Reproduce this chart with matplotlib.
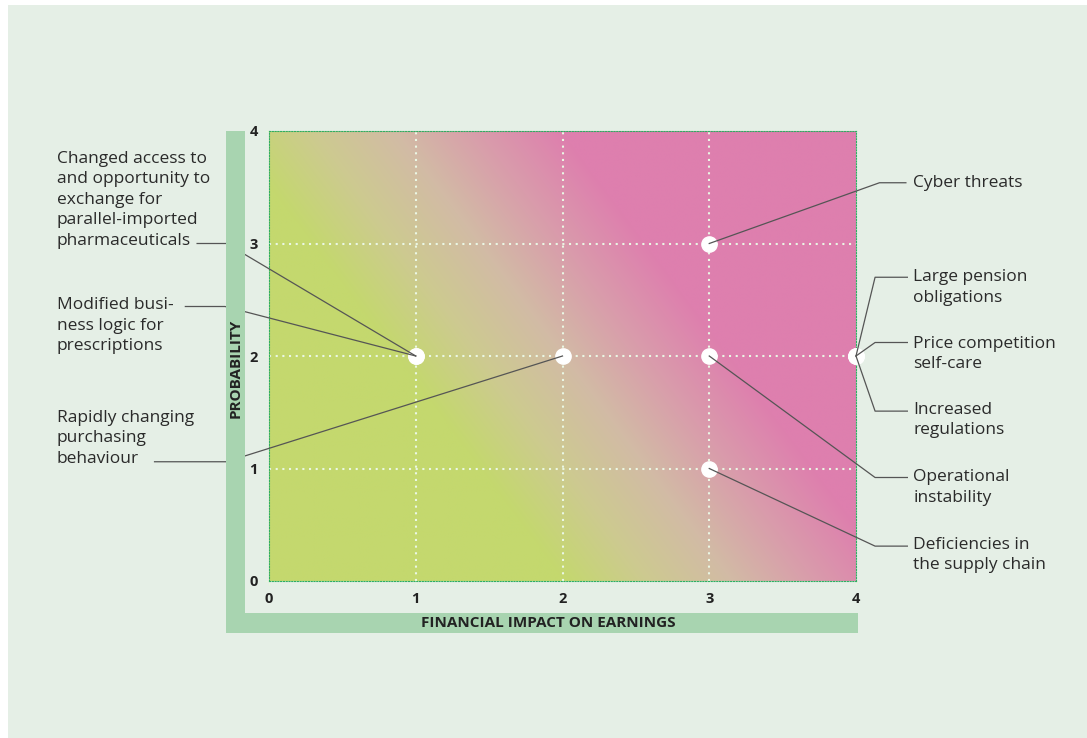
import numpy as np
import matplotlib.pyplot as plt
from matplotlib.colors import LinearSegmentedColormap
from matplotlib.patches import Rectangle

plt.rcParams['font.family'] = ['Open Sans', 'DejaVu Sans']

# risks: financial impact (x) and probability (y)
risks = ['Changed access to\nand opportunity to\nexchange for\nparallel-imported\npharmaceuticals',
         'Modified busi-\nness logic for\nprescriptions',
         'Rapidly changing\npurchasing\nbehaviour',
         'Cyber threats',
         'Large pension\nobligations',
         'Price competition\nself-care',
         'Increased\nregulations',
         'Operational\ninstability',
         'Deficiencies in\nthe supply chain']
impact = [1, 1, 2, 3, 4, 4, 4, 3, 3]
probability = [2, 2, 2, 3, 2, 2, 2, 2, 1]

ticks = [0, 1, 2, 3, 4]

# label layout: text anchor x, text block centre y, leader y, elbow x, leader end x
label_x = [-1.445, -1.445, -1.445, 4.39, 4.39, 4.39, 4.39, 4.39, 4.39]
label_y = [3.39, 2.27, 1.27, 3.54, 2.61, 2.02, 1.43, 0.83, 0.23]
lead_y = [3.00, 2.44, 1.06, 3.54, 2.70, 2.12, 1.51, 0.92, 0.31]
elbow_x = [-0.29, -0.30, -0.29, 4.16, 4.13, 4.13, 4.13, 4.13, 4.13]
end_x = [-0.49, -0.57, -0.78, 4.34, 4.35, 4.35, 4.35, 4.35, 4.35]

BG = '#e5efe6'
BAR = '#a8d4b0'
GREEN = '#c4d86e'
PINK = '#de7fae'
LINE = '#555555'

fig = plt.figure(figsize=(10.87, 7.38), dpi=100)
fig.patch.set_facecolor('white')
fig.patches.append(Rectangle((8 / 1087, 0), 1, 1 - 5 / 738, transform=fig.transFigure,
                             facecolor=BG, edgecolor='none', zorder=-10))

W, H = 1087, 738
ax = fig.add_axes([269 / W, 1 - 581 / H, (856 - 269) / W, (581 - 131) / H])
ax.set_facecolor(GREEN)

# green bars behind the axis titles
fig.patches.append(Rectangle((226 / W, 1 - 633 / H), 19 / W, (633 - 131) / H,
                             transform=fig.transFigure, facecolor=BAR, edgecolor='none'))
fig.patches.append(Rectangle((226 / W, 1 - 633 / H), (858 - 226) / W, 20 / H,
                             transform=fig.transFigure, facecolor=BAR, edgecolor='none'))

# diagonal gradient, computed in pixel space so the bands keep their angle
cmap = LinearSegmentedColormap.from_list('risk', [GREEN, '#cdca90', '#d2bba5', '#d99cab', PINK])
nx, ny = 600, 460
px = np.linspace(0, 587, nx)
py = np.linspace(0, 450, ny)
PX, PY = np.meshgrid(px, py)
t = 0.801 * PX + 0.598 * PY
t = np.clip((t - 236) / (504 - 236), 0, 1)
ax.imshow(t, cmap=cmap, origin='lower', extent=[0, 4, 0, 4], aspect='auto',
          interpolation='bilinear', zorder=0)

ax.set_xlim(0, 4)
ax.set_ylim(0, 4)
ax.set_xticks(ticks)
ax.set_yticks(ticks)
ax.set_xticklabels([str(v) for v in ticks], fontweight='bold', fontsize=10.5, color='#222222')
ax.set_yticklabels([str(v) for v in ticks], fontweight='bold', fontsize=10.5, color='#222222')
ax.tick_params(length=3, width=0.8, color='#e8f5e0', pad=5)
for v in ticks[1:-1]:
    ax.axvline(v, color='#eaf7e4', lw=1.5, ls=(0, (1, 2.2)), zorder=1)
    ax.axhline(v, color='#eaf7e4', lw=1.5, ls=(0, (1, 2.2)), zorder=1)
for s in ax.spines.values():
    s.set_color('#2fae62')
    s.set_linewidth(0.8)
    s.set_linestyle((0, (1, 1.5)))

fig.text(236 / W, 1 - 368 / H, 'PROBABILITY', rotation=90, ha='center', va='center',
         fontsize=11, fontweight='bold', color='#222222')
fig.text(548 / W, 1 - 623 / H, 'FINANCIAL IMPACT ON EARNINGS', ha='center', va='center',
         fontsize=11, fontweight='bold', color='#222222')

# risk points
ax.plot(impact, probability, 'o', ms=11, color='white', mec='white', clip_on=False, zorder=3)

# leaders and labels
for name, x, y, tx, ty, ly, ex, lx in zip(risks, impact, probability, label_x, label_y,
                                          lead_y, elbow_x, end_x):
    ax.plot([x, ex, lx], [y, ly, ly], color=LINE, lw=0.9, clip_on=False, zorder=4)
    ax.text(tx, ty, name, ha='left', va='center', fontsize=12.5, color='#2a2a2a',
            linespacing=1.37, clip_on=False)

fig.savefig('out.png', dpi=100, facecolor=fig.get_facecolor())
